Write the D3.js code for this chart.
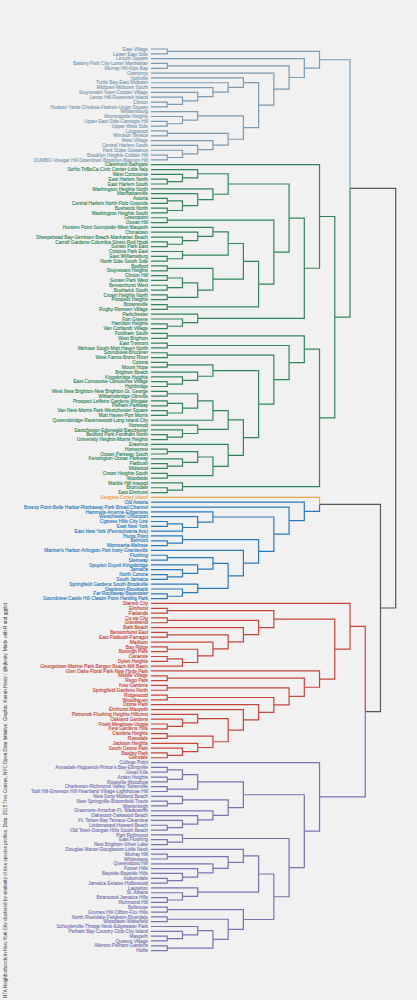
<!DOCTYPE html>
<html><head><meta charset="utf-8">
<script src="https://cdn.jsdelivr.net/npm/d3@7/dist/d3.min.js"></script>
<style>body{margin:0;background:#f1f1f1;}svg{display:block;}</style>
</head><body>
<svg id="chart" width="417" height="1000"></svg>
<script>
// ---- data: cluster trees, leaves in top-to-bottom order ----
// blue-grey cluster
const bYork = ["Yorkville",["Turtle Bay-East Midtown",["Midtown-Midtown South",["Stuyvesant Town-Cooper Village",["Lenox Hill-Roosevelt Island",["Clinton","Hudson Yards-Chelsea-Flatiron-Union Square"]]]]]];
const bWill = [["Williamsburg",["Morningside Heights",["Upper East Side-Carnegie Hill","Upper West Side"]]],[["Longwood","Windsor Terrace"],["West Village",["Central Harlem South",["Park Slope-Gowanus",["Brooklyn Heights-Cobble Hill","DUMBO-Vinegar Hill-Downtown Brooklyn-Boerum Hill"]]]]]];
const blueATree = [["East Village","Lower East Side"],["Lincoln Square",[["Battery Park City-Lower Manhattan","Murray Hill-Kips Bay"],["Gramercy",[bYork, bWill]]]]];

// green cluster
const gA = [["SoHo-TriBeCa-Civic Center-Little Italy",["West Concourse",["East Harlem North","East Harlem South"]]],["Washington Heights North",["Manhattanville",[["Astoria","Central Harlem North-Polo Grounds"],["Bushwick North","Washington Heights South"]]]]];
const gB1 = ["Hunters Point-Sunnyside-West Maspeth",["Chinatown",["Sheepshead Bay-Gerritsen Beach-Manhattan Beach",["Carroll Gardens-Columbia Street-Red Hook","Sunset Park East"]]]];
const gB2 = ["Crotona Park East",["East Williamsburg","North Side-South Side"]];
const gB3 = [["Bedford","Stuyvesant Heights"],[[["Clinton Hill","Sunset Park West"],["Bensonhurst West","Bushwick South"]],["Crown Heights North","Prospect Heights"]]];
const gB = [["Greenpoint","Ocean Hill"],[[[gB1, gB2], gB3],["Brownsville","Rugby-Remsen Village"]]];
const gPark = ["Parkchester",["Fort Greene",["Hamilton Heights","Van Cortlandt Village"]]];
const gG1 = ["Claremont-Bathgate",[[gA, gB], gPark]];
const gC1 = [["Corona","Mount Hope"],["Brighton Beach",["Kingsbridge Heights",["East Concourse-Concourse Village","Highbridge"]]]];
const g503 = [["West New Brighton-New Brighton-St. George","Williamsbridge-Olinville"],[["Prospect Lefferts Gardens-Wingate","Pelham Parkway"],["Van Nest-Morris Park-Westchester Square","Mott Haven-Port Morris"]]];
const gNor = ["Norwood",["Eastchester-Edenwald-Baychester",["Bedford Park-Fordham North","University Heights-Morris Heights"]]];
const gUp = [[g503, "Queensbridge-Ravenswood-Long Island City"], gNor];
const gLow = ["Erasmus",[[["Homecrest","Ocean Parkway South"],["Kensington-Ocean Parkway",["Flatbush","Midwood"]]],["Crown Heights South","Woodside"]]];
const gG2a = [["Fordham South","West Brighton"],[["East Tremont","Melrose South-Mott Haven North"],[["Soundview-Bruckner","West Farms-Bronx River"],[gC1,[gUp, gLow]]]]];
const gG2 = [gG2a, ["Marble Hill-Inwood",["Bronxdale","East Elmhurst"]]];
const greenTree = [gG1, gG2];

// orange (single leaf)
const orangeTree = "Seagate-Coney Island";

// blue cluster
const bbA = ["Hammels-Arverne-Edgemere",["Westchester-Unionport",[["Cypress Hills-City Line","East New York"],"East New York (Pennsylvania Ave)"]]];
const bbB = ["Mariner's Harbor-Arlington-Port Ivory-Graniteville",[[["Flushing","Steinway"],["Spuyten Duyvil-Kingsbridge",["Jamaica",["North Corona","South Jamaica"]]]],["Springfield Gardens South-Brookville",["Stapleton-Rosebank",["Far Rockaway-Bayswater","Soundview-Castle Hill-Clason Point-Harding Park"]]]]];
const blueBTree = ["Old Astoria",["Breezy Point-Belle Harbor-Rockaway Park-Broad Channel",[bbA,[["Hunts Point",["Belmont","Morrisania-Melrose"]], bbB]]]];

// red cluster
const rTop = [["Elmhurst","Flatlands"],[["Co-op City","Gravesend"],["Bath Beach",[["Bensonhurst East","East Flatbush-Farragut"],["Madison",[["Bay Ridge","Borough Park"],[["Canarsie","Dyker Heights"],"Georgetown-Marine Park-Bergen Beach-Mill Basin"]]]]]]];
const rCore = [["Pomonok-Flushing Heights-Hillcrest",["Oakland Gardens",["Fresh Meadows-Utopia","Kew Gardens Hills"]]],[["Cambria Heights","Rosedale"],["Jackson Heights",["South Ozone Park",["Baisley Park","Glendale"]]]]];
const rBot = ["Glen Oaks-Floral Park-New Hyde Park",[["Middle Village","Rego Park"],[["Kew Gardens","Springfield Gardens North"],[["Ridgewood","Woodhaven"],["Ozone Park",["Elmhurst-Maspeth", rCore]]]]]];
const redTree = ["Starrett City",[rTop, rBot]];

// purple cluster
const pA = [[["Annadale-Huguenot-Prince's Bay-Eltingville","Great Kills"],["Arden Heights","Rossville-Woodrow"]],["Charleston-Richmond Valley-Tottenville","Todt Hill-Emerson Hill-Heartland Village-Lighthouse Hill"]];
const pB = [["New Dorp-Midland Beach",["New Springville-Bloomfield-Travis","Westerleigh"]],["Grasmere-Arrochar-Ft. Wadsworth",["Oakwood-Oakwood Beach",["Ft. Totten-Bay Terrace-Clearview",["Lindenwood-Howard Beach","Old Town-Dongan Hills-South Beach"]]]]];
const pC = ["Douglas Manor-Douglaston-Little Neck",[["Murray Hill","Whitestone"],["Queensboro Hill",["Forest Hills",["Bayside-Bayside Hills",["Auburndale","Jamaica Estates-Holliswood"]]]]]];
const pD = ["Laurelton",["St. Albans",["Briarwood-Jamaica Hills","Richmond Hill"]]];
const pE = [["Bellerose","Grymes Hill-Clifton-Fox Hills"],[["North Riverdale-Fieldston-Riverdale","Woodlawn-Wakefield"],[["Schuylerville-Throgs Neck-Edgewater Park",["Pelham Bay-Country Club-City Island",["Maspeth","Queens Village"]]],["Allerton-Pelham Gardens","Hollis"]]]];
const purpleTree = ["College Point",[[pA, pB],[["Port Richmond",["East Flushing","New Brighton-Silver Lake"]],[[pC, pD], pE]]]];

const clusterTrees = [blueATree, greenTree, orangeTree, blueBTree, redTree, purpleTree];
const clusterColors = ["#7b9bb3", "#32855a", "#f3a24a", "#2a79ba", "#c6453b", "#7774b1"];
const linkGray = "#585858";
const caption = "NTA Neighborhoods in New York City clustered by similarity of tree species profiles. Data: 2015 Tree Census, NYC Open Data Initiative. Graphic: Kieran Healy / @kjhealy. Made with R and ggplot.";

// top-level joins of the clusters
const rootTree = [[blueATree, greenTree], [[orangeTree, blueBTree], [redTree, purpleTree]]];

// ---- layout ----
const svg = d3.select("#chart");
const root = d3.hierarchy(rootTree, d => Array.isArray(d) ? d : null);
const leaves = root.leaves();

const y = d3.scalePoint().domain(leaves.map(d => d.data)).range([49, 950.6]);
const x = d3.scaleLinear().domain([0, root.height]).range([152, 395.7]);

root.each(n => { n.cluster = -1; });
root.descendants().forEach(n => {
  const ci = clusterTrees.indexOf(n.data);
  if (ci >= 0 && n.cluster < 0) n.each(m => { m.cluster = ci; });
});

root.eachAfter(n => {
  n.yy = n.children ? d3.mean(n.children, c => c.yy) : y(n.data);
});

const col = n => n.cluster >= 0 ? clusterColors[n.cluster] : linkGray;

svg.append("rect").attr("width", 417).attr("height", 1000).attr("fill", "#f1f1f1");

const links = root.descendants().filter(n => n.parent);
svg.append("g").selectAll("path").data(links).join("path")
  .attr("fill", "none")
  .attr("stroke", col)
  .attr("stroke-width", 1.2)
  .attr("d", n => {
    const x0 = n.children ? x(n.height) : 151;
    return `M${x0},${n.yy}H${x(n.parent.height)}V${n.parent.yy}`;
  });

svg.append("g").selectAll("text").data(leaves).join("text")
  .attr("x", 148)
  .attr("y", n => n.yy)
  .attr("dy", "0.35em")
  .attr("text-anchor", "end")
  .attr("font-family", "Liberation Sans, Arial, sans-serif")
  .attr("font-size", 4.8)
  .attr("fill", col)
  .attr("stroke", col)
  .attr("stroke-width", 0.12)
  .text(n => n.data);

svg.append("text")
  .attr("transform", "translate(7,998) rotate(-90)")
  .attr("font-family", "Liberation Sans, Arial, sans-serif")
  .attr("font-size", 4.6)
  .attr("fill", "#3a3a3a")
  .text(caption);
</script>
</body></html>
